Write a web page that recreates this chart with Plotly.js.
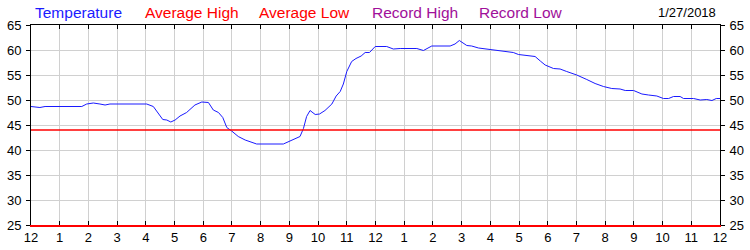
<!DOCTYPE html>
<html>
<head>
<meta charset="utf-8">
<script src="https://cdn.plot.ly/plotly-3.0.1.min.js"></script>
<style>html,body{margin:0;padding:0;background:#fff;}#chart{width:750px;height:250px;}</style>
</head>
<body>
<div id="chart"></div>
<script>
var hours = [0,0.31,0.49,0.66,1.77,1.94,2.17,2.40,2.58,2.75,4.03,4.26,4.44,4.59,4.73,4.87,5.02,5.19,5.42,5.71,5.95,6.18,6.35,6.53,6.68,6.82,6.99,7.22,7.46,7.63,7.86,8.79,8.91,9.14,9.37,9.49,9.6,9.72,9.9,10.05,10.24,10.48,10.63,10.77,10.88,11.0,11.17,11.32,11.5,11.64,11.79,11.99,12.39,12.62,12.86,13.44,13.67,13.96,14.6,14.77,14.92,15.18,15.35,15.59,15.88,16.17,16.34,16.8,16.98,17.27,17.56,17.74,17.91,18.2,18.43,18.66,19.01,19.36,19.65,19.94,20.23,20.52,20.7,20.99,21.28,21.51,21.8,22.03,22.21,22.38,22.61,22.73,23.08,23.31,23.54,23.72,23.87,24];
var temperature = [48.7,48.5,48.7,48.7,48.7,49.2,49.4,49.2,49.0,49.2,49.2,48.7,47.3,46.1,46.0,45.6,46.0,46.8,47.5,49.0,49.6,49.5,48.0,47.5,46.5,44.5,43.8,42.7,42.0,41.6,41.2,41.2,41.5,42.0,42.7,44.3,46.7,47.9,47.1,47.2,47.9,49.2,50.8,51.7,53.2,55.7,57.7,58.3,58.8,59.5,59.5,60.7,60.7,60.2,60.3,60.3,59.9,60.8,60.8,61.2,61.9,60.9,60.8,60.4,60.2,59.9,59.9,59.5,59.1,58.9,58.7,57.8,57.0,56.3,56.2,55.7,55.0,54.1,53.3,52.7,52.3,52.2,51.9,51.9,51.2,51.0,50.8,50.3,50.3,50.7,50.7,50.3,50.3,50.0,50.1,49.9,50.3,50.3];
var avgHighX = [0, 24];
var avgHighY = [44, 44];
var xTickVals = [0,1,2,3,4,5,6,7,8,9,10,11,12,13,14,15,16,17,18,19,20,21,22,23,24];
var xTickText = ['12','1','2','3','4','5','6','7','8','9','10','11','12','1','2','3','4','5','6','7','8','9','10','11','12'];
var yTickVals = [25,30,35,40,45,50,55,60,65];
var legendLabels = ['Temperature','Average High','Average Low','Record High','Record Low'];
var legendColors = ['#1a1aff','#ff0000','#ff0000','#a0109a','#a0109a'];
var legendPx = [33,143,257,370,477];
var dateLabel = '1/27/2018';

var FONT = 'Liberation Sans, Arial, sans-serif';
var L = 31, R = 720, T = 25, B = 225;
var W = 750, H = 250;

var traces = [
  {x: hours, y: temperature, type: 'scatter', mode: 'lines', line: {color: '#1a1aff', width: 1}, xaxis: 'x', yaxis: 'y', hoverinfo: 'skip'},
  {x: avgHighX, y: avgHighY, type: 'scatter', mode: 'lines', line: {color: '#ff0000', width: 1.5}, xaxis: 'x2', yaxis: 'y2', hoverinfo: 'skip'}
];

var annotations = legendLabels.map(function(t, i){
  return {text: t, xref: 'paper', yref: 'paper', x: (legendPx[i]-L)/(R-L), y: 1 + (T-12)/(B-T),
    xanchor: 'left', yanchor: 'middle', showarrow: false, font: {family: FONT, size: 15.5, color: legendColors[i]}};
});
annotations.push({text: dateLabel, xref: 'paper', yref: 'paper', x: (718-L)/(R-L), y: 1 + (T-13)/(B-T),
  xanchor: 'right', yanchor: 'middle', showarrow: false, font: {family: FONT, size: 13, color: '#000'}});

var layout = {
  width: W, height: H,
  margin: {l: L, r: W-R, t: T, b: H-B, pad: 0},
  paper_bgcolor: '#fff', plot_bgcolor: '#fff',
  showlegend: false,
  font: {family: FONT, size: 13, color: '#000'},
  xaxis: {range: [0,24], tickvals: xTickVals, ticktext: xTickText, showgrid: true, gridcolor: '#d0d0d0', gridwidth: 1,
    showline: true, linecolor: '#ff0000', linewidth: 1.5, ticks: 'inside', ticklen: 4, tickcolor: '#000', zeroline: false,
    tickfont: {family: FONT, size: 13, color: '#000'}, fixedrange: true},
  xaxis2: {range: [0,24], overlaying: 'x', side: 'top', tickvals: xTickVals, showticklabels: false, showgrid: false,
    showline: true, linecolor: '#000', linewidth: 1, ticks: 'inside', ticklen: 4, tickcolor: '#000', zeroline: false},
  yaxis: {range: [25,65], tickvals: yTickVals, showgrid: true, gridcolor: '#d0d0d0', gridwidth: 1, showline: true,
    linecolor: '#000', linewidth: 1, ticks: 'outside', ticklen: 4, tickcolor: '#000', zeroline: false,
    tickfont: {family: FONT, size: 13, color: '#000'}, ticklabelstandoff: 2},
  yaxis2: {range: [25,65], overlaying: 'y', side: 'right', anchor: 'x2', tickvals: yTickVals, showgrid: false, showline: true,
    linecolor: '#000', linewidth: 1, ticks: 'outside', ticklen: 4, tickcolor: '#000', zeroline: false,
    tickfont: {family: FONT, size: 13, color: '#000'}, ticklabelstandoff: 2},
  annotations: annotations
};

Plotly.newPlot('chart', traces, layout, {displayModeBar: false, staticPlot: true});
</script>
</body>
</html>
